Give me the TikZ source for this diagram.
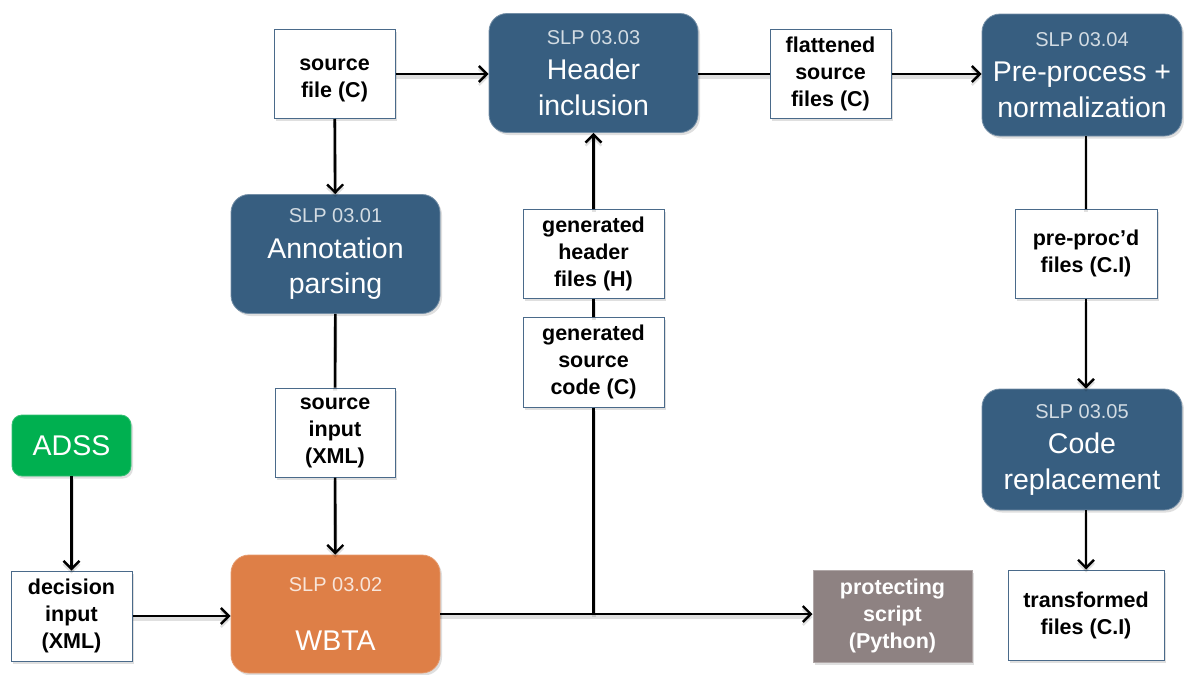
\documentclass[tikz,border=0pt]{standalone}
\usepackage{fontspec}
\setmainfont{Liberation Sans}
\usetikzlibrary{arrows.meta,shadows}

\definecolor{slpblue}{HTML}{375E80}
\definecolor{slporange}{HTML}{DE7F47}
\definecolor{adssgreen}{HTML}{00B050}
\definecolor{scriptgray}{HTML}{8E8282}
\definecolor{boxedge}{HTML}{4A6A8A}

% smaller, paler step number above a stage title
\newcommand\stepnum[1]{{\fontsize{20}{24}\selectfont\color{white!78!slpblue}#1}}
\newcommand\stepnumo[1]{{\fontsize{20}{24}\selectfont\color{white!80!slporange}#1}}

\tikzset{
  shade box/.style={drop shadow={opacity=0.25,shadow xshift=2pt,shadow yshift=-2.5pt}},
  stage/.style={shade box, draw=slpblue!70!white, line width=0.8pt, fill=slpblue,
    rounded corners=18pt, text=white, align=center, inner sep=0pt,
    minimum width=209pt, minimum height=119pt,
    font=\fontsize{28.5}{35.5}\selectfont},
  data/.style={shade box, draw=boxedge, line width=1pt, fill=white,
    align=center, inner sep=0pt, minimum width=121pt, minimum height=89pt,
    font=\bfseries\fontsize{21.5}{27}\selectfont},
  flow/.style={line width=2.6pt, draw=black,
    preaction={draw=black, draw opacity=0.12, line width=4pt,
      transform canvas={yshift=-3pt}}},
  arr/.style={flow, -{Straight Barb[length=8pt,width=16pt,line width=2.4pt]}},
}

\begin{document}
\begin{tikzpicture}[x=1pt,y=-1pt]
\useasboundingbox (0,0) rectangle (1184,675);

% processing stages
\node[stage] (header) at (593.5,73) {\stepnum{SLP 03.03}\\Header\\inclusion};
\node[stage, minimum width=200pt, minimum height=122pt] (prep) at (1082,75)
  {\stepnum{SLP 03.04}\\Pre-process +\\normalization};
\node[stage] (annot) at (335.5,254) {\stepnum{SLP 03.01}\\Annotation\\parsing};
\node[stage, minimum width=200pt, minimum height=121pt] (code) at (1082,449.5)
  {\stepnum{SLP 03.05}\\Code\\replacement};
\node[stage, fill=slporange, draw=slporange!80!white, minimum height=118pt] (wbta) at (335.5,614)
  {\stepnumo{SLP 03.02}\\[24pt]WBTA};
\node[stage, fill=adssgreen, draw=adssgreen!80!white, rounded corners=10pt,
  minimum width=119pt, minimum height=61pt] (adss) at (71.5,445.5) {ADSS};

% data items
\node[data] (srcfile) at (334.5,74) {\rule{0pt}{25pt}source\\file (C)};
\node[data] (flat) at (830.5,74) {flattened\\source\\files (C)};
\node[data, minimum width=141pt] (genh) at (593.5,253.5) {generated\\header\\files (H)};
\node[data, minimum width=141pt, minimum height=90pt] (gensrc) at (593.5,362) {generated\\source\\code (C)};
\node[data, minimum width=120pt] (srcin) at (335,432.5) {source\\input\\(XML)};
\node[data, minimum height=90pt] (dec) at (71.5,616) {decision\\input\\(XML)};
\node[data, minimum width=142pt] (preproc) at (1086,253.5) {pre-proc'd\\files (C.I)};
\node[data, minimum width=156pt, minimum height=90pt] (trans) at (1086,615) {transformed\\files (C.I)};
\node[data, fill=scriptgray, draw=scriptgray!70!white, text=white,
  minimum width=159pt, minimum height=92pt] (prot) at (892.5,616) {protecting\\script\\(Python)};

% connectors
\draw[arr] (srcfile.east) -- (header.west |- srcfile.east);
\draw[flow] (header.east |- flat.west) -- (flat.west);
\draw[arr] (flat.east) -- (prep.west |- flat.east);
\draw[arr] (srcfile) -- (annot);
\draw[flow] (annot) -- (srcin);
\draw[arr] (srcin) -- (wbta);
\draw[arr] (adss) -- (dec);
\draw[arr] (dec.east) -- (wbta.west |- dec.east);
\draw[arr] (wbta.east) -- (prot.west |- wbta.east);
\draw[flow] (gensrc.south) -- (gensrc.south |- wbta.east);
\draw[flow] (gensrc) -- (genh);
\draw[arr] (genh) -- (genh.north |- header.south);
\draw[flow] (prep.south -| preproc.north) -- (preproc.north);
\draw[arr] (preproc) -- (preproc.south |- code.north);
\draw[arr] (code.south -| trans.north) -- (trans.north);
\end{tikzpicture}
\end{document}
